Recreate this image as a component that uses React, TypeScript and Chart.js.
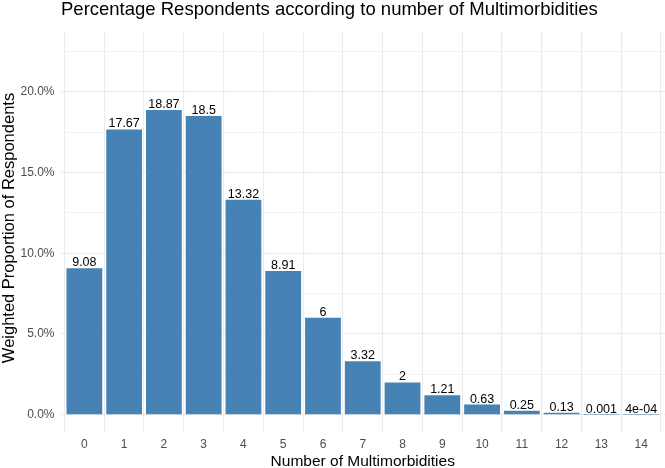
import React, { useEffect, useRef } from 'react';
import { Chart, registerables } from 'chart.js';

Chart.register(...registerables);

const categories = [0, 1, 2, 3, 4, 5, 6, 7, 8, 9, 10, 11, 12, 13, 14];
const values = [9.08, 17.67, 18.87, 18.5, 13.32, 8.91, 6, 3.32, 2, 1.21, 0.63, 0.25, 0.13, 0.001, 0.0004];
const valueLabels = ['9.08', '17.67', '18.87', '18.5', '13.32', '8.91', '6', '3.32', '2', '1.21', '0.63', '0.25', '0.13', '0.001', '4e-04'];
const yGridValues = [0, 2.5, 5, 7.5, 10, 12.5, 15, 17.5, 20, 22.5];
const yLabelValues = [0, 5, 10, 15, 20];
const titleText = 'Percentage Respondents according to number of Multimorbidities';
const xTitleText = 'Number of Multimorbidities';
const yTitleText = 'Weighted Proportion of Respondents';

const FONT = "'Liberation Sans', Arial, Helvetica, sans-serif";

const textPlugin = {
  id: 'textPlugin',
  afterDraw(chart: any) {
    const ctx = chart.ctx;
    const area = chart.chartArea;
    ctx.save();
    // data labels
    const meta = chart.getDatasetMeta(0);
    ctx.fillStyle = '#000000';
    ctx.font = `12.5px ${FONT}`;
    ctx.textAlign = 'center';
    ctx.textBaseline = 'alphabetic';
    meta.data.forEach((el: any, i: number) => {
      ctx.fillText(valueLabels[i], el.x, el.y - 2);
    });
    // title
    ctx.font = `18.5px ${FONT}`;
    ctx.textAlign = 'left';
    ctx.fillText(titleText, 61, 15);
    // x title
    ctx.font = `15.5px ${FONT}`;
    ctx.textAlign = 'center';
    ctx.fillText(xTitleText, (area.left + area.right) / 2, 466);
    // y title
    ctx.translate(13.5, (area.top + area.bottom) / 2 - 4);
    ctx.rotate(-Math.PI / 2);
    ctx.font = `16.5px ${FONT}`;
    ctx.textAlign = 'center';
    ctx.fillText(yTitleText, 0, 0);
    ctx.restore();
  },
};

export default function App() {
  const ref = useRef<HTMLCanvasElement | null>(null);
  useEffect(() => {
    if (!ref.current) return;
    const chart = new Chart(ref.current, {
      type: 'bar',
      data: {
        datasets: [
          {
            data: categories.map((c, i) => ({ x: c, y: values[i] })),
            backgroundColor: '#4682B4',
            borderWidth: 0,
            barPercentage: 0.9,
            categoryPercentage: 1,
          },
        ],
      },
      options: {
        animation: false,
        responsive: false,
        devicePixelRatio: 1,
        layout: { padding: { top: 31, left: 0, right: 0, bottom: 0 } },
        plugins: { legend: { display: false }, tooltip: { enabled: false }, title: { display: false } },
        scales: {
          x: {
            type: 'linear',
            min: -0.6,
            max: 14.6,
            offset: false,
            border: { display: false },
            grid: { color: '#EBEBEB', lineWidth: 1.1, drawTicks: false },
            ticks: {
              autoSkip: false,
              maxRotation: 0,
              color: '#4D4D4D',
              font: { size: 12, family: FONT },
              padding: 4,
              callback: (v: any) => String(v),
            },
            afterBuildTicks: (s: any) => {
              s.ticks = categories.map((v) => ({ value: v }));
            },
            afterFit: (s: any) => {
              s.height = 35;
            },
          },
          y: {
            type: 'linear',
            min: -1.132,
            max: 23.77,
            border: { display: false },
            grid: {
              color: '#EBEBEB',
              drawTicks: false,
              lineWidth: (c: any) => (c.tick && yLabelValues.includes(c.tick.value) ? 1.1 : 0.6),
            },
            ticks: {
              autoSkip: false,
              color: '#4D4D4D',
              font: { size: 12, family: FONT },
              padding: 6,
              callback: (v: any) => (yLabelValues.includes(v) ? v.toFixed(1) + '%' : ''),
            },
            afterBuildTicks: (s: any) => {
              s.ticks = yGridValues.map((v) => ({ value: v }));
            },
            afterFit: (s: any) => {
              s.width = 60.5;
            },
          },
        },
      },
      plugins: [textPlugin],
    });
    return () => chart.destroy();
  }, []);
  return (
    <div style={{ position: 'absolute', left: 0, top: 0, width: 665, height: 468, background: '#FFFFFF' }}>
      <canvas ref={ref} width={665} height={468} style={{ display: 'block' }} />
    </div>
  );
}
